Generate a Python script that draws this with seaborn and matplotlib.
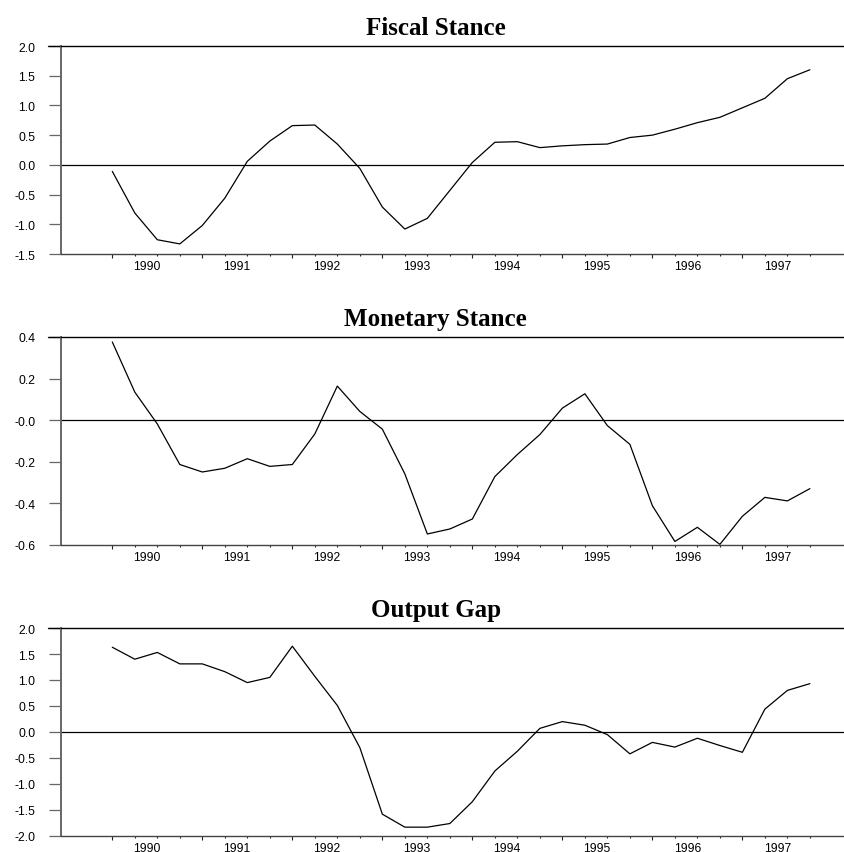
import numpy as np
import pandas as pd
import seaborn as sns
import matplotlib.pyplot as plt

# quarterly observations, 1989Q4 .. 1997Q3
quarters = ["1989Q4"] + [f"{y}Q{q}" for y in range(1990, 1998) for q in range(1, 5)][:31]
years = ["1990", "1991", "1992", "1993", "1994", "1995", "1996", "1997"]

fiscal = [-0.11, -0.81, -1.26, -1.33, -1.02, -0.56, 0.06, 0.40, 0.66, 0.67,
          0.35, -0.06, -0.71, -1.08, -0.90, -0.43, 0.04, 0.38, 0.39, 0.29,
          0.32, 0.34, 0.35, 0.46, 0.50, 0.60, 0.71, 0.80, 0.96, 1.12,
          1.45, 1.60]
monetary = [0.376, 0.135, -0.018, -0.213, -0.249, -0.231, -0.185, -0.222, -0.213, -0.066,
            0.164, 0.042, -0.043, -0.258, -0.547, -0.523, -0.475, -0.271, -0.165, -0.069,
            0.058, 0.127, -0.026, -0.116, -0.411, -0.583, -0.515, -0.597, -0.462, -0.371,
            -0.388, -0.329]
output_gap = [1.63, 1.40, 1.53, 1.31, 1.31, 1.16, 0.95, 1.05, 1.65, 1.07,
              0.51, -0.30, -1.58, -1.83, -1.83, -1.76, -1.34, -0.75, -0.37, 0.07,
              0.20, 0.13, -0.05, -0.42, -0.20, -0.29, -0.12, -0.26, -0.39, 0.44,
              0.80, 0.93]

panels = [
    ("Fiscal Stance", fiscal, (-1.5, 2.0),
     ["-1.5", "-1.0", "-0.5", "0.0", "0.5", "1.0", "1.5", "2.0"]),
    ("Monetary Stance", monetary, (-0.6, 0.4),
     ["-0.6", "-0.4", "-0.2", "-0.0", "0.2", "0.4"]),
    ("Output Gap", output_gap, (-2.0, 2.0),
     ["-2.0", "-1.5", "-1.0", "-0.5", "0.0", "0.5", "1.0", "1.5", "2.0"]),
]

sns.set_style("white")
plt.rcParams['font.family'] = ['Liberation Sans', 'DejaVu Sans']
plt.rcParams['axes.unicode_minus'] = False

dpi = 100
fig = plt.figure(figsize=(845 / dpi, 853 / dpi), dpi=dpi)

W, H = 845, 853
left_px, right_px = 61, 845
tops = [47, 338, 629]
ph = 208

x = np.arange(len(quarters))
q1_pos = [quarters.index(y + "Q1") for y in years]
gray = "#666666"

for (title, values, (ymin, ymax), ylabels), top in zip(panels, tops):
    ax = fig.add_axes([left_px / W, 1 - (top + ph) / H,
                       (right_px - left_px) / W, ph / H])
    df = pd.DataFrame({"x": x, "value": values})
    sns.lineplot(data=df, x="x", y="value", ax=ax, color="black", linewidth=0.9)
    ax.axhline(0, color="black", linewidth=0.9)

    ax.set_xlim(-2.28, 32.56)
    ax.set_ylim(ymin, ymax)
    ax.set_xlabel("")
    ax.set_ylabel("")

    # y axis
    yt = np.linspace(ymin, ymax, len(ylabels))
    ax.set_yticks(yt)
    ax.set_yticklabels(ylabels)
    ax.tick_params(axis="y", direction="out", length=9, width=0.9, color=gray,
                   pad=9.5, labelsize=8.8, left=True, labelcolor="black")

    # x axis: long ticks every 4 quarters, short each quarter
    ax.set_xticks(x[::4])
    ax.set_xticklabels([])
    ax.set_xticks(x, minor=True)
    ax.tick_params(axis="x", which="major", direction="out", length=2.6,
                   width=0.8, color="#222222", bottom=True)
    ax.tick_params(axis="x", which="minor", direction="out", length=1.5,
                   width=0.8, color="#222222", bottom=True)

    sec = ax.secondary_xaxis("bottom")
    sec.set_xticks([p + 0.55 for p in q1_pos])
    sec.set_xticklabels(years)
    sec.tick_params(length=0, pad=4, labelsize=8.8, labelcolor="black")
    sec.spines["bottom"].set_visible(False)

    ax.spines["top"].set_color("black")
    ax.spines["top"].set_linewidth(1.0)
    ax.spines["left"].set_color(gray)
    ax.spines["left"].set_linewidth(1.4)
    ax.spines["bottom"].set_color("#444444")
    ax.spines["bottom"].set_linewidth(1.0)
    ax.spines["right"].set_visible(False)

    ax.set_title(title, x=0.478, pad=8.5, fontsize=18, fontweight="bold",
                 color="black", family=["Liberation Serif", "DejaVu Serif"])

    # extend top border over the tick area like the original
    ax.plot([-2.28 - 0.58, -2.28], [ymax, ymax], color="black", linewidth=1.0,
            clip_on=False)

fig.savefig("out.png", dpi=dpi)
